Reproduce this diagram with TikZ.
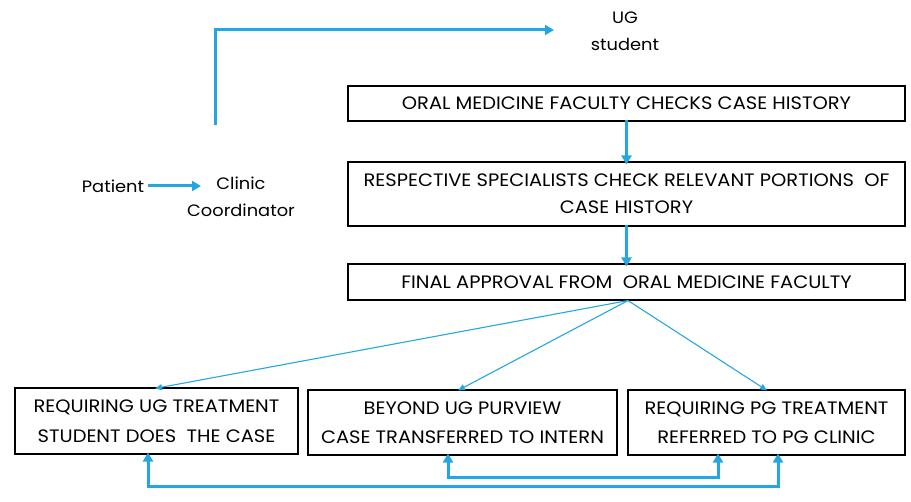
\documentclass[tikz,border=0pt]{standalone}
\usepackage{fontspec}
\setmainfont{Poppins}[FakeStretch=1.08]
\usetikzlibrary{arrows.meta}
\definecolor{flowblue}{RGB}{36,167,224}
\begin{document}
\begin{tikzpicture}[x=1pt,y=-1pt,
  box/.style={draw=black,line width=1.1pt,align=center,inner sep=2pt,
    font=\fontsize{18}{27}\selectfont},
  plain/.style={align=center,font=\fontsize{16.5}{27}\selectfont},
  thickarrow/.style={draw=flowblue,line width=3pt,-{Triangle[length=9pt,width=10pt]}},
  dblarrow/.style={draw=flowblue,line width=3pt,{Triangle[length=9pt,width=10pt]}-{Triangle[length=9pt,width=10pt]}},
  thinarrow/.style={draw=flowblue,line width=1.1pt,-{Triangle[length=7pt,width=6pt]}}]
\useasboundingbox (0,0) rectangle (911,502);
% boxes
\node[box,minimum width=557pt,minimum height=35pt] (b1) at (626.5,103.5) {ORAL MEDICINE FACULTY CHECKS CASE HISTORY};
\node[box,minimum width=557pt,minimum height=64pt] (b2) at (626.5,194) {RESPECTIVE SPECIALISTS CHECK RELEVANT PORTIONS\ \ OF\\CASE HISTORY};
\node[box,minimum width=557pt,minimum height=36pt] (b3) at (626.5,282) {FINAL APPROVAL FROM\ \ ORAL MEDICINE FACULTY};
\node[box,minimum width=283pt,minimum height=66pt,font=\fontsize{18}{30}\selectfont] (b4) at (156.5,421) {REQUIRING UG TREATMENT\\STUDENT DOES\ \ THE CASE};
\node[box,minimum width=309pt,minimum height=65pt,font=\fontsize{18}{29}\selectfont] (b5) at (462.5,422.5) {BEYOND UG PURVIEW\\CASE TRANSFERRED TO INTERN};
\node[box,minimum width=277pt,minimum height=65pt,font=\fontsize{18}{29}\selectfont] (b6) at (766.5,422.5) {REQUIRING PG TREATMENT\\REFERRED TO PG CLINIC};
% left texts
\node[plain] (pat) at (113,186) {Patient};
\node[plain] (clin) at (241,197) {Clinic\\Coordinator};
\node[plain] (ug) at (625,31) {UG\\student};
\coordinate (pattip) at (201,186);
\coordinate (upstart) at (215,125);
\coordinate (uptip) at (554,30);
% connectors
\draw[thickarrow] (pat.east) -- (pattip);
\draw[thickarrow] (upstart) |- (uptip);
\draw[thickarrow] ([yshift=2pt]b1.south) -- ([yshift=-3pt]b2.north);
\draw[thickarrow] ([yshift=2pt]b2.south) -- ([yshift=-3pt]b3.north);
\draw[thinarrow] ([xshift=1.5pt]b3.south) -- ([xshift=-1.5pt,yshift=-1pt]b4.north);
\draw[thinarrow] ([xshift=1.5pt]b3.south) -- ([xshift=-4.5pt,yshift=-1pt]b5.north);
\draw[thinarrow] ([xshift=1.5pt]b3.south) -- ([xshift=0.5pt,yshift=-1pt]b6.north);
\draw[dblarrow] ([xshift=-8.5pt,yshift=2pt]b4.south) -- ++(0,34) -| ([xshift=11.5pt,yshift=2pt]b6.south);
\draw[dblarrow] ([xshift=-14.5pt,yshift=2pt]b5.south) -- ++(0,24) -| ([xshift=-48.5pt,yshift=2pt]b6.south);
\end{tikzpicture}
\end{document}
